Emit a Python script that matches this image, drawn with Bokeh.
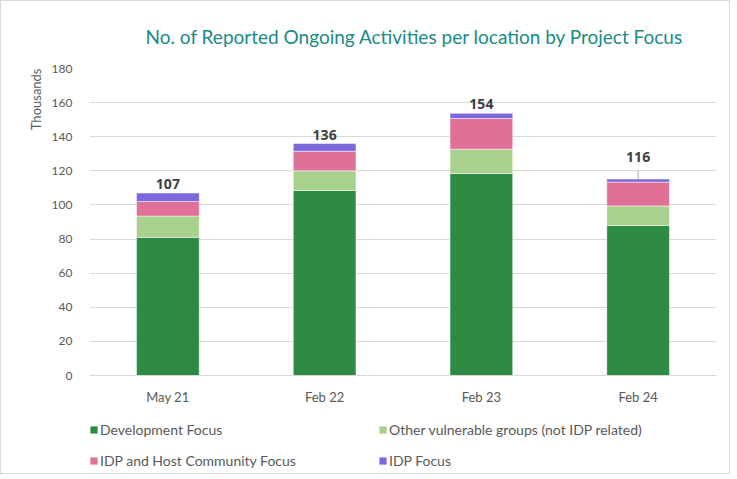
from bokeh.plotting import figure
from bokeh.layouts import column
from bokeh.core.properties import value
from bokeh.models import ColumnDataSource, Legend, LegendItem, FactorRange, Range1d, Title
from bokeh.embed import file_html
from bokeh.resources import INLINE

periods = ["May 21", "Feb 22", "Feb 23", "Feb 24"]
development = [81, 108.5, 118.5, 88]
other_vulnerable = [12.5, 11.5, 14.2, 11.4]
idp_host = [8.5, 11.5, 18, 14]
idp_focus = [5, 4.5, 3, 1.8]
total_labels = ["107", "136", "154", "116"]

series = ["development", "other_vulnerable", "idp_host", "idp_focus"]
series_names = ["Development Focus", "Other vulnerable groups (not IDP related)",
                "IDP and Host Community Focus", "IDP Focus"]
colors = ["#2E8B44", "#A9D18E", "#E07098", "#7B68DC"]
label_lift = [-4, -4, -4, -17]   # screen px offsets of the total labels (style)

totals = [a + b + c + d for a, b, c, d in zip(development, other_vulnerable, idp_host, idp_focus)]

source = ColumnDataSource(dict(
    periods=periods, development=development, other_vulnerable=other_vulnerable,
    idp_host=idp_host, idp_focus=idp_focus, totals=totals, total_labels=total_labels,
    lift=label_lift,
))

FONT = "Lato"
W = 728

p = figure(x_range=FactorRange(*periods), y_range=(0, 180), width=W, height=410,
           output_backend="svg", toolbar_location=None,
           min_border_left=88, min_border_right=13, min_border_top=62, min_border_bottom=36)

renderers = p.vbar_stack(series, x="periods", width=0.4, color=colors, source=source,
                         line_color="white", line_width=0.5)

p.text(x="periods", y="totals", text="total_labels", source=source,
       text_align="center", text_baseline="bottom", y_offset="lift",
       text_font_size="14px", text_font_style="bold", text_color="#404040",
       text_font=value("Open Sans"))

# leader line for the last label
last = periods[-1]
p.segment(x0=[last], y0=[totals[-1]], x1=[last], y1=[totals[-1] + 5],
          line_color="#A6A6A6", line_width=1)

p.title.text = "No. of Reported Ongoing Activities per location by Project Focus"
p.title.text_font = FONT
p.title.text_font_size = "19px"
p.title.text_font_style = "normal"
p.title.text_color = "#1A8A86"
p.title.align = "left"
p.title.offset = 56
p.title.standoff = 42

p.xgrid.grid_line_color = None
p.ygrid.grid_line_color = "#D9D9D9"
p.ygrid.grid_line_width = 1
p.yaxis.ticker = list(range(0, 181, 20))
p.yaxis.axis_line_color = None
p.yaxis.major_tick_line_color = None
p.yaxis.major_tick_out = 0
p.yaxis.minor_tick_line_color = None
p.yaxis.major_label_text_font = FONT
p.yaxis.major_label_text_font_size = "12px"
p.yaxis.major_label_text_color = "#595959"
p.yaxis.major_label_standoff = 17

p.xaxis.axis_line_color = "#D9D9D9"
p.xaxis.major_tick_line_color = None
p.xaxis.major_tick_out = 0
p.xaxis.minor_tick_line_color = None
p.xaxis.major_label_text_font = FONT
p.xaxis.major_label_text_font_size = "13px"
p.xaxis.major_label_text_color = "#595959"
p.xaxis.major_label_standoff = 13

p.outline_line_color = None

p.add_layout(Title(text="Thousands", align="right", offset=0, standoff=10,
                   text_font=FONT, text_font_size="13px", text_font_style="normal",
                   text_color="#595959"), "left")

# legend in its own strip under the chart
lg = figure(width=W, height=62, output_backend="svg", toolbar_location=None,
            x_range=Range1d(0, 1), y_range=Range1d(0, 1),
            x_axis_type=None, y_axis_type=None,
            min_border_left=88, min_border_right=13, min_border_top=0, min_border_bottom=0)
lg.grid.grid_line_color = None
lg.outline_line_color = None
swatches = [lg.vbar(x=[0], top=[0], bottom=[0], width=0, fill_color=c, line_alpha=0)
            for c in colors]
items = [LegendItem(label=n, renderers=[r]) for n, r in zip(series_names, swatches)]
legend = Legend(items=items, orientation="horizontal", ncols=2, location=(0, 3),
                label_text_font=FONT, label_text_font_size="14px", label_text_color="#595959",
                glyph_width=9, glyph_height=9, label_standoff=2, label_width=267,
                spacing=11, label_height=20, padding=0, margin=0, border_line_color=None,
                background_fill_alpha=0)
lg.add_layout(legend, "center")

layout = column(p, lg, spacing=0)
layout.styles = {"border": "1px solid #D9D9D9"}

open("out.html", "w").write(file_html(layout, INLINE))
